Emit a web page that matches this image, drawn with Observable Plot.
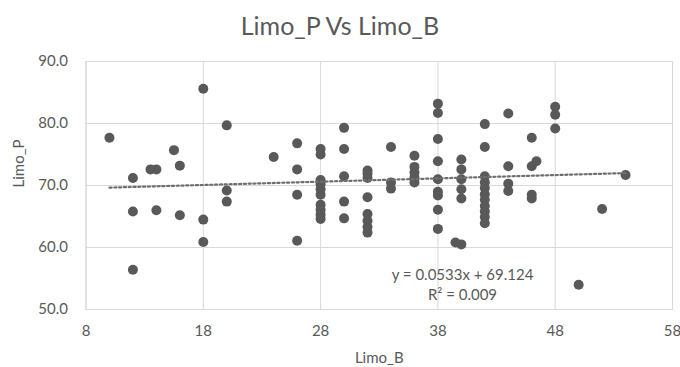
<!DOCTYPE html>
<html>
<head>
<meta charset="utf-8">
<script src="https://cdn.jsdelivr.net/npm/d3@7"></script>
<script src="https://cdn.jsdelivr.net/npm/@observablehq/plot@0.6"></script>
<style>
  html, body { margin: 0; padding: 0; background: #fff; }
  #chart { width: 680px; }
  #title {
    width: 680px; height: 50px; line-height: 50px; text-align: center;
    font-family: Lato, "Open Sans", sans-serif; font-size: 25px; color: #595959;
  }
  svg { display: block; }
</style>
</head>
<body>
<div id="chart">
  <div id="title">Limo_P Vs Limo_B</div>
</div>
<script>
// Limo_B (x) and Limo_P (y), one entry per sample
const limoB = [
  10,
  12, 12, 12,
  13.5, 14, 14,
  15.5, 16, 16,
  18, 18, 18,
  20, 20, 20,
  24,
  26, 26, 26, 26,
  28, 28, 28, 28, 28, 28, 28, 28, 28, 28,
  30, 30, 30, 30, 30,
  32, 32, 32, 32, 32, 32, 32, 32,
  34, 34, 34,
  36, 36, 36, 36, 36,
  38, 38, 38, 38, 38, 38, 38, 38, 38,
  39.5, 40, 40, 40, 40, 40, 40,
  42, 42, 42, 42, 42, 42, 42, 42, 42, 42, 42,
  44, 44, 44, 44,
  46, 46, 46, 46, 46.4,
  48, 48, 48,
  50, 52, 54
];
const limoP = [
  77.7,
  71.2, 65.8, 56.4,
  72.6, 72.6, 66.0,
  75.7, 73.2, 65.2,
  85.6, 64.5, 60.9,
  79.7, 69.2, 67.4,
  74.6,
  76.8, 72.6, 68.5, 61.1,
  75.9, 75.0, 70.9, 70.2, 69.4, 68.5, 66.9, 66.1, 65.3, 64.6,
  79.3, 75.9, 71.5, 67.4, 64.7,
  72.4, 71.9, 71.2, 68.1, 65.4, 64.3, 63.3, 62.4,
  76.2, 70.5, 69.5,
  74.8, 73.0, 72.1, 71.3, 70.5,
  83.2, 81.7, 77.5, 73.9, 71.0, 69.0, 68.4, 66.1, 63.0,
  60.8, 60.5, 74.2, 72.6, 71.0, 69.4, 67.9,
  79.9, 76.2, 71.5, 70.5, 69.6, 68.6, 67.7, 66.7, 65.8, 64.9, 63.9,
  81.6, 73.1, 70.3, 69.1,
  77.7, 73.1, 68.5, 67.9, 73.9,
  82.7, 81.4, 79.2,
  54.0, 66.2, 71.7
];

// Axis ticks
const xTicks = [8, 18, 28, 38, 48, 58];
const yTicks = [50, 60, 70, 80, 90];

// Linear trendline
const slope = 0.0533;
const intercept = 69.124;
const rSquared = "0.009";
const trendRange = [10, 54];

const points = limoB.map((b, i) => ({b, p: limoP[i]}));
const trend = trendRange.map(b => ({b, p: slope * b + intercept}));

const ink = "#595959";
const gridColor = "#d9d9d9";

const chart = Plot.plot({
  width: 680,
  height: 317,
  marginLeft: 85.5,
  marginRight: 8,
  marginTop: 11,
  marginBottom: 58,
  style: {fontFamily: "Lato, 'Open Sans', sans-serif", fontSize: "15px", color: ink, background: "#fff"},
  x: {domain: [8, 58]},
  y: {domain: [50, 90]},
  marks: [
    Plot.gridX(xTicks, {stroke: gridColor, strokeOpacity: 1}),
    Plot.gridY(yTicks, {stroke: gridColor, strokeOpacity: 1}),
    Plot.frame({stroke: gridColor}),
    Plot.axisX({ticks: xTicks, tickSize: 0, tickPadding: 16, label: null, tickFormat: d => String(d)}),
    Plot.axisY({ticks: yTicks, tickSize: 0, tickPadding: 18, label: null, tickFormat: d3.format(".1f")}),
    Plot.text(["Limo_B"], {frameAnchor: "bottom", dy: 49, lineAnchor: "middle", fill: ink}),
    Plot.text(["Limo_P"], {frameAnchor: "left", dx: -67, dy: 2, rotate: -90, lineAnchor: "middle", fill: ink}),
    Plot.dot(points, {x: "b", y: "p", r: 5, fill: ink, stroke: "none"}),
    Plot.line(trend, {x: "b", y: "p", stroke: "#6e6e6e", strokeWidth: 2.2, strokeDasharray: "2.2,2.6"}),
    Plot.text([`y = ${slope}x + ${intercept}\nR² = ${rSquared}`], {
      frameAnchor: "bottom-right", dx: -210, dy: -26, textAnchor: "middle",
      lineAnchor: "middle", lineHeight: 1.33, fill: ink
    })
  ]
});

document.getElementById("chart").appendChild(chart);
</script>
</body>
</html>
